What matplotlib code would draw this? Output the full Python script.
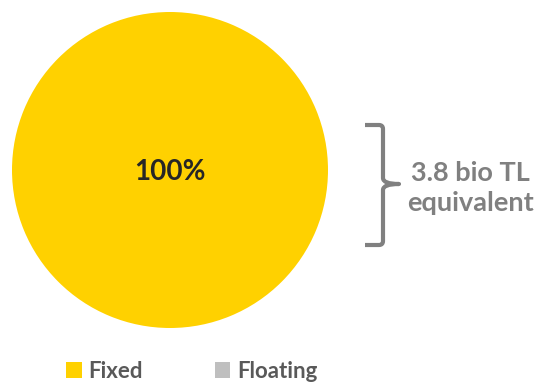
import matplotlib.pyplot as plt
from matplotlib.patches import Patch
from matplotlib.path import Path
from matplotlib.patches import PathPatch

# dados
categorias = ["Fixed", "Floating"]
valores = [100, 0]
cores = ["#FFD100", "#BFBFBF"]
rotulo_centro = "100%"
total_texto = "3.8 bio TL\nequivalent"

W, H = 539, 384
fig = plt.figure(figsize=(W / 100, H / 100), dpi=100)

# pizza
ax = fig.add_axes([12 / W, 56 / H, 316 / W, 316 / H])
ax.pie(valores, colors=cores, startangle=90, counterclock=False,
       wedgeprops=dict(linewidth=0))
ax.set_xlim(-1, 1)
ax.set_ylim(-1, 1)
ax.set_aspect("equal")
ax.text(0, -0.01, rotulo_centro, ha="center", va="center", fontsize=20,
        fontweight="bold", color="#262626", family="Lato")

# chave e texto
ov = fig.add_axes([0, 0, 1, 1])
ov.set_xlim(0, W)
ov.set_ylim(H, 0)
ov.axis("off")
verts = [(365, 125), (379, 125), (383, 125), (383, 129),
         (383, 178), (383, 184), (399, 184),
         (383, 184), (383, 190),
         (383, 241), (383, 245), (379, 245), (365, 245)]
codes = [Path.MOVETO, Path.LINETO, Path.CURVE3, Path.CURVE3,
         Path.LINETO, Path.CURVE3, Path.CURVE3,
         Path.CURVE3, Path.CURVE3,
         Path.LINETO, Path.CURVE3, Path.CURVE3, Path.LINETO]
ov.add_patch(PathPatch(Path(verts, codes), fill=False, edgecolor="#808080",
                       linewidth=3, capstyle="butt", joinstyle="round"))
ov.text(470, 188, total_texto, ha="center", va="center", fontsize=19.5,
        fontweight="bold", color="#808080", family="Lato", linespacing=1.3)

# legenda
handles = [Patch(facecolor=c, edgecolor="none") for c in cores]
leg = fig.legend(handles, categorias, loc="center left",
                 bbox_to_anchor=(66 / W, 1 - 371 / H), ncol=2, frameon=False,
                 borderpad=0, borderaxespad=0,
                 handlelength=0.7, handleheight=0.7, handletextpad=0.3,
                 columnspacing=3.25,
                 prop=dict(family="Lato", weight="bold", size=16))
for t in leg.get_texts():
    t.set_color("#595959")

fig.savefig("out.png", dpi=100)
